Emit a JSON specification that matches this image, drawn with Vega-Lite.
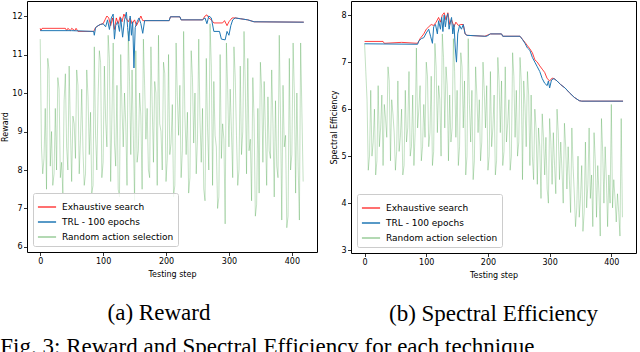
{
  "$schema": "https://vega.github.io/schema/vega-lite/v6.json",
  "padding": {"left": 0, "top": 0, "right": 0, "bottom": 0},
  "spacing": 12,
  "config": {
    "view": {"stroke": "#000", "strokeWidth": 1},
    "axis": {"domain": false, "grid": false, "tickColor": "#000", "tickSize": 3.5, "tickWidth": 0.8, "labelFont": "DejaVu Sans", "labelFontSize": 8, "labelColor": "#000", "labelPadding": 1.5, "titleFont": "DejaVu Sans", "titleFontSize": 8, "titleFontWeight": "normal", "titleColor": "#000"},
    "legend": {"orient": "bottom-left", "offset": 6, "title": null, "symbolType": "stroke", "symbolSize": 330, "symbolStrokeWidth": 1.5, "labelFont": "DejaVu Sans", "labelFontSize": 9, "labelColor": "#000", "rowPadding": 0, "padding": 4, "labelOffset": 5, "strokeColor": "#ccc", "fillColor": "rgba(255,255,255,0.85)", "cornerRadius": 2},
    "title": {"font": "Liberation Serif", "fontSize": 23, "fontWeight": "normal", "color": "#000", "orient": "bottom", "anchor": "middle", "offset": 24}
  },
  "title": {"text": "Fig. 3: Reward and Spectral Efficiency for each technique", "anchor": "start", "orient": "bottom", "offset": 9, "dx": -1},
  "datasets": {
    "rRand": [{"x":0,"y":11.4},{"x":2,"y":8.6},{"x":4,"y":7.9},{"x":6,"y":8.3},{"x":8,"y":9.6},{"x":10,"y":7.5},{"x":12,"y":10.9},{"x":14,"y":10.6},{"x":16,"y":8.1},{"x":18,"y":9.0},{"x":20,"y":7.6},{"x":22,"y":7.9},{"x":24,"y":9.6},{"x":26,"y":8.0},{"x":28,"y":10.4},{"x":30,"y":10.1},{"x":32,"y":7.8},{"x":34,"y":8.2},{"x":36,"y":7.4},{"x":38,"y":9.8},{"x":40,"y":10.5},{"x":42,"y":8.6},{"x":44,"y":8.0},{"x":46,"y":10.7},{"x":48,"y":9.1},{"x":50,"y":7.7},{"x":52,"y":9.4},{"x":54,"y":9.2},{"x":56,"y":8.3},{"x":58,"y":10.6},{"x":60,"y":10.2},{"x":62,"y":7.9},{"x":64,"y":8.8},{"x":66,"y":10.1},{"x":68,"y":8.5},{"x":70,"y":7.6},{"x":72,"y":7.9},{"x":74,"y":10.6},{"x":76,"y":9.9},{"x":78,"y":8.4},{"x":80,"y":9.5},{"x":82,"y":7.4},{"x":84,"y":7.6},{"x":86,"y":11.2},{"x":88,"y":8.9},{"x":90,"y":8.0},{"x":92,"y":9.9},{"x":94,"y":11.1},{"x":96,"y":10.8},{"x":98,"y":7.8},{"x":100,"y":8.2},{"x":102,"y":10.7},{"x":104,"y":9.3},{"x":106,"y":8.6},{"x":108,"y":11.5},{"x":110,"y":10.9},{"x":112,"y":7.7},{"x":114,"y":9.4},{"x":116,"y":11.3},{"x":118,"y":8.7},{"x":120,"y":8.1},{"x":122,"y":10.2},{"x":124,"y":7.5},{"x":126,"y":7.3},{"x":128,"y":11.0},{"x":130,"y":9.6},{"x":132,"y":8.6},{"x":134,"y":10.0},{"x":136,"y":9.2},{"x":138,"y":7.6},{"x":140,"y":11.6},{"x":142,"y":10.3},{"x":144,"y":8.4},{"x":146,"y":10.6},{"x":148,"y":8.9},{"x":150,"y":7.2},{"x":152,"y":11.1},{"x":154,"y":8.2},{"x":156,"y":8.5},{"x":158,"y":10.0},{"x":160,"y":9.4},{"x":162,"y":7.5},{"x":164,"y":11.4},{"x":166,"y":10.2},{"x":168,"y":8.8},{"x":170,"y":9.6},{"x":172,"y":8.0},{"x":174,"y":7.8},{"x":176,"y":11.2},{"x":178,"y":9.7},{"x":180,"y":8.2},{"x":182,"y":10.3},{"x":184,"y":10.0},{"x":186,"y":7.6},{"x":188,"y":11.5},{"x":190,"y":9.2},{"x":192,"y":9.0},{"x":194,"y":8.0},{"x":196,"y":10.8},{"x":198,"y":10.5},{"x":200,"y":7.7},{"x":202,"y":8.3},{"x":204,"y":11.0},{"x":206,"y":8.4},{"x":208,"y":8.7},{"x":210,"y":9.7},{"x":212,"y":7.3},{"x":214,"y":7.6},{"x":216,"y":11.3},{"x":218,"y":9.9},{"x":220,"y":8.9},{"x":222,"y":10.2},{"x":224,"y":7.8},{"x":226,"y":8.5},{"x":228,"y":11.6},{"x":230,"y":9.4},{"x":232,"y":8.4},{"x":234,"y":9.5},{"x":236,"y":7.4},{"x":238,"y":7.8},{"x":240,"y":11.1},{"x":242,"y":10.4},{"x":244,"y":8.7},{"x":246,"y":10.0},{"x":248,"y":7.9},{"x":250,"y":8.8},{"x":252,"y":11.4},{"x":254,"y":9.3},{"x":256,"y":8.2},{"x":258,"y":9.6},{"x":260,"y":7.5},{"x":262,"y":7.2},{"x":264,"y":10.9},{"x":266,"y":9.1},{"x":268,"y":8.0},{"x":270,"y":11.8},{"x":272,"y":10.7},{"x":274,"y":7.6},{"x":276,"y":10.3},{"x":278,"y":8.9},{"x":280,"y":8.6},{"x":282,"y":7.0},{"x":284,"y":7.3},{"x":286,"y":11.0},{"x":288,"y":8.3},{"x":290,"y":9.2},{"x":292,"y":8.8},{"x":294,"y":6.6},{"x":296,"y":11.3},{"x":298,"y":10.1},{"x":300,"y":8.6},{"x":302,"y":10.1},{"x":304,"y":9.0},{"x":306,"y":7.8},{"x":308,"y":11.2},{"x":310,"y":10.4},{"x":312,"y":8.9},{"x":314,"y":7.6},{"x":316,"y":8.0},{"x":318,"y":10.7},{"x":320,"y":8.4},{"x":322,"y":9.0},{"x":324,"y":11.6},{"x":326,"y":10.2},{"x":328,"y":7.9},{"x":330,"y":10.9},{"x":332,"y":8.5},{"x":334,"y":8.8},{"x":336,"y":7.2},{"x":338,"y":10.4},{"x":340,"y":9.3},{"x":342,"y":6.8},{"x":344,"y":7.1},{"x":346,"y":9.6},{"x":348,"y":7.4},{"x":350,"y":10.8},{"x":352,"y":10.1},{"x":354,"y":8.2},{"x":356,"y":10.3},{"x":358,"y":9.0},{"x":360,"y":7.6},{"x":362,"y":9.9},{"x":364,"y":8.5},{"x":366,"y":8.3},{"x":368,"y":10.6},{"x":370,"y":9.2},{"x":372,"y":7.3},{"x":374,"y":9.8},{"x":376,"y":8.1},{"x":378,"y":7.8},{"x":380,"y":11.5},{"x":382,"y":9.4},{"x":384,"y":6.7},{"x":386,"y":10.2},{"x":388,"y":8.6},{"x":390,"y":8.9},{"x":392,"y":6.5},{"x":394,"y":6.8},{"x":396,"y":10.9},{"x":398,"y":8.0},{"x":400,"y":8.4},{"x":402,"y":11.3},{"x":404,"y":10.0},{"x":406,"y":7.4},{"x":408,"y":10.0},{"x":410,"y":8.1},{"x":412,"y":6.7},{"x":414,"y":11.3},{"x":416,"y":9.5},{"x":418,"y":7.7}],
    "rExh": [{"x":0,"y":11.68},{"x":1,"y":11.62},{"x":3,"y":11.68},{"x":40,"y":11.68},{"x":42,"y":11.62},{"x":44,"y":11.68},{"x":48,"y":11.62},{"x":50,"y":11.68},{"x":55,"y":11.62},{"x":57,"y":11.68},{"x":60,"y":11.6},{"x":85,"y":11.6},{"x":88,"y":11.7},{"x":95,"y":11.78},{"x":100,"y":11.8},{"x":103,"y":11.9},{"x":106,"y":12.0},{"x":109,"y":11.95},{"x":112,"y":11.75},{"x":115,"y":11.95},{"x":118,"y":11.65},{"x":121,"y":11.95},{"x":124,"y":11.8},{"x":127,"y":11.98},{"x":130,"y":11.85},{"x":133,"y":12.05},{"x":136,"y":11.95},{"x":140,"y":11.85},{"x":143,"y":11.95},{"x":146,"y":11.8},{"x":150,"y":11.9},{"x":153,"y":11.75},{"x":156,"y":11.85},{"x":160,"y":12.0},{"x":163,"y":11.88},{"x":205,"y":11.88},{"x":207,"y":11.98},{"x":222,"y":11.98},{"x":224,"y":11.9},{"x":258,"y":11.9},{"x":262,"y":12.0},{"x":265,"y":12.03},{"x":268,"y":11.95},{"x":272,"y":11.9},{"x":276,"y":11.82},{"x":290,"y":11.82},{"x":293,"y":11.88},{"x":297,"y":11.75},{"x":300,"y":11.85},{"x":305,"y":11.95},{"x":310,"y":11.95},{"x":318,"y":11.93},{"x":330,"y":11.9},{"x":340,"y":11.85},{"x":419,"y":11.84}],
    "rTrl": [{"x":0,"y":11.62},{"x":50,"y":11.62},{"x":85,"y":11.6},{"x":86,"y":11.5},{"x":88,"y":11.7},{"x":92,"y":11.75},{"x":96,"y":11.78},{"x":100,"y":11.8},{"x":104,"y":11.72},{"x":107,"y":11.9},{"x":110,"y":11.65},{"x":113,"y":11.95},{"x":116,"y":12.05},{"x":118,"y":11.4},{"x":120,"y":11.75},{"x":123,"y":11.85},{"x":126,"y":11.6},{"x":128,"y":11.95},{"x":131,"y":11.45},{"x":134,"y":11.9},{"x":137,"y":12.1},{"x":139,"y":11.7},{"x":141,"y":11.35},{"x":143,"y":12.0},{"x":145,"y":11.5},{"x":147,"y":11.85},{"x":149,"y":10.65},{"x":151,"y":11.7},{"x":154,"y":11.85},{"x":157,"y":11.95},{"x":160,"y":11.8},{"x":163,"y":11.55},{"x":166,"y":11.88},{"x":205,"y":11.88},{"x":207,"y":11.98},{"x":222,"y":11.98},{"x":224,"y":11.9},{"x":258,"y":11.9},{"x":262,"y":11.95},{"x":265,"y":11.8},{"x":268,"y":12.0},{"x":272,"y":11.95},{"x":276,"y":11.6},{"x":285,"y":11.6},{"x":288,"y":11.4},{"x":294,"y":11.38},{"x":297,"y":11.6},{"x":300,"y":11.5},{"x":303,"y":11.75},{"x":306,"y":11.9},{"x":310,"y":11.95},{"x":318,"y":11.93},{"x":330,"y":11.9},{"x":340,"y":11.85},{"x":419,"y":11.84}],
    "sRand": [{"x":0,"y":7.4},{"x":2,"y":6.8},{"x":4,"y":6.2},{"x":6,"y":4.7},{"x":8,"y":5.0},{"x":10,"y":6.4},{"x":12,"y":5.0},{"x":14,"y":5.3},{"x":16,"y":6.0},{"x":18,"y":4.6},{"x":20,"y":4.9},{"x":22,"y":6.5},{"x":24,"y":5.2},{"x":26,"y":5.6},{"x":28,"y":6.3},{"x":30,"y":4.8},{"x":32,"y":6.1},{"x":34,"y":5.8},{"x":36,"y":5.4},{"x":38,"y":6.9},{"x":40,"y":6.6},{"x":42,"y":4.9},{"x":44,"y":6.2},{"x":46,"y":5.9},{"x":48,"y":5.5},{"x":50,"y":4.7},{"x":52,"y":5.1},{"x":54,"y":6.6},{"x":56,"y":5.1},{"x":58,"y":5.4},{"x":60,"y":6.0},{"x":62,"y":4.6},{"x":64,"y":4.8},{"x":66,"y":6.4},{"x":68,"y":5.3},{"x":70,"y":5.6},{"x":72,"y":6.8},{"x":74,"y":5.0},{"x":76,"y":5.2},{"x":78,"y":6.3},{"x":80,"y":4.8},{"x":82,"y":5.5},{"x":84,"y":7.3},{"x":86,"y":5.6},{"x":88,"y":6.0},{"x":90,"y":6.5},{"x":92,"y":4.9},{"x":94,"y":5.2},{"x":96,"y":6.1},{"x":98,"y":5.4},{"x":100,"y":7.0},{"x":102,"y":6.7},{"x":104,"y":5.2},{"x":106,"y":5.5},{"x":108,"y":6.7},{"x":110,"y":4.8},{"x":112,"y":5.1},{"x":114,"y":7.4},{"x":116,"y":6.9},{"x":118,"y":5.5},{"x":120,"y":6.5},{"x":122,"y":6.2},{"x":124,"y":5.0},{"x":126,"y":7.6},{"x":128,"y":7.1},{"x":130,"y":5.6},{"x":132,"y":6.9},{"x":134,"y":6.5},{"x":136,"y":4.9},{"x":138,"y":6.3},{"x":140,"y":5.3},{"x":142,"y":5.6},{"x":144,"y":7.5},{"x":146,"y":6.8},{"x":148,"y":5.4},{"x":150,"y":6.4},{"x":152,"y":4.8},{"x":154,"y":5.2},{"x":156,"y":7.2},{"x":158,"y":6.9},{"x":160,"y":5.6},{"x":162,"y":6.6},{"x":164,"y":4.6},{"x":166,"y":5.0},{"x":168,"y":7.5},{"x":170,"y":6.1},{"x":172,"y":5.3},{"x":174,"y":6.4},{"x":176,"y":4.5},{"x":178,"y":4.9},{"x":180,"y":6.9},{"x":182,"y":6.3},{"x":184,"y":5.5},{"x":186,"y":6.2},{"x":188,"y":4.9},{"x":190,"y":5.3},{"x":192,"y":7.0},{"x":194,"y":6.4},{"x":196,"y":5.6},{"x":198,"y":6.5},{"x":200,"y":4.7},{"x":202,"y":5.0},{"x":204,"y":6.8},{"x":206,"y":5.2},{"x":208,"y":5.6},{"x":210,"y":6.3},{"x":212,"y":4.6},{"x":214,"y":4.9},{"x":216,"y":7.1},{"x":218,"y":6.6},{"x":220,"y":5.5},{"x":222,"y":6.6},{"x":224,"y":4.8},{"x":226,"y":5.1},{"x":228,"y":6.9},{"x":230,"y":5.3},{"x":232,"y":5.7},{"x":234,"y":6.2},{"x":236,"y":4.7},{"x":238,"y":5.0},{"x":240,"y":7.2},{"x":242,"y":6.7},{"x":244,"y":5.4},{"x":246,"y":6.4},{"x":248,"y":5.0},{"x":250,"y":5.3},{"x":252,"y":7.1},{"x":254,"y":6.6},{"x":256,"y":4.5},{"x":258,"y":6.6},{"x":260,"y":6.1},{"x":262,"y":5.2},{"x":264,"y":6.8},{"x":266,"y":6.3},{"x":268,"y":4.8},{"x":270,"y":6.3},{"x":272,"y":5.0},{"x":274,"y":4.5},{"x":276,"y":6.0},{"x":278,"y":5.6},{"x":280,"y":4.4},{"x":282,"y":5.6},{"x":284,"y":5.2},{"x":286,"y":4.1},{"x":288,"y":5.9},{"x":290,"y":5.4},{"x":292,"y":4.6},{"x":294,"y":5.4},{"x":296,"y":4.3},{"x":298,"y":4.0},{"x":300,"y":5.8},{"x":302,"y":5.3},{"x":304,"y":4.4},{"x":306,"y":5.5},{"x":308,"y":4.8},{"x":310,"y":4.2},{"x":312,"y":6.0},{"x":314,"y":5.5},{"x":316,"y":4.5},{"x":318,"y":5.3},{"x":320,"y":4.7},{"x":322,"y":4.0},{"x":324,"y":5.7},{"x":326,"y":5.2},{"x":328,"y":4.3},{"x":330,"y":5.2},{"x":332,"y":4.5},{"x":334,"y":3.8},{"x":336,"y":5.6},{"x":338,"y":4.8},{"x":340,"y":4.2},{"x":342,"y":3.5},{"x":344,"y":3.9},{"x":346,"y":5.0},{"x":348,"y":3.7},{"x":350,"y":4.1},{"x":352,"y":4.8},{"x":354,"y":3.4},{"x":356,"y":3.8},{"x":358,"y":5.3},{"x":360,"y":3.9},{"x":362,"y":4.4},{"x":364,"y":5.6},{"x":366,"y":4.1},{"x":368,"y":4.6},{"x":370,"y":3.5},{"x":372,"y":5.5},{"x":374,"y":4.9},{"x":376,"y":3.7},{"x":378,"y":4.8},{"x":380,"y":4.2},{"x":382,"y":3.3},{"x":384,"y":5.8},{"x":386,"y":5.1},{"x":388,"y":4.0},{"x":390,"y":5.2},{"x":392,"y":4.5},{"x":394,"y":3.5},{"x":396,"y":4.6},{"x":398,"y":4.0},{"x":400,"y":6.1},{"x":402,"y":3.9},{"x":404,"y":4.5},{"x":406,"y":4.1},{"x":408,"y":3.6},{"x":410,"y":4.2},{"x":412,"y":3.8},{"x":414,"y":3.3},{"x":416,"y":5.8},{"x":418,"y":3.7}],
    "sExh": [{"x":0,"y":7.44},{"x":30,"y":7.44},{"x":32,"y":7.4},{"x":60,"y":7.42},{"x":86,"y":7.4},{"x":90,"y":7.5},{"x":96,"y":7.6},{"x":100,"y":7.7},{"x":104,"y":7.75},{"x":108,"y":7.8},{"x":112,"y":7.78},{"x":116,"y":7.85},{"x":120,"y":7.95},{"x":123,"y":7.85},{"x":126,"y":8.0},{"x":129,"y":8.05},{"x":132,"y":7.9},{"x":135,"y":8.05},{"x":138,"y":7.8},{"x":141,"y":7.9},{"x":145,"y":7.75},{"x":148,"y":7.85},{"x":152,"y":7.78},{"x":156,"y":7.8},{"x":160,"y":7.8},{"x":163,"y":7.6},{"x":166,"y":7.57},{"x":195,"y":7.55},{"x":204,"y":7.6},{"x":222,"y":7.6},{"x":224,"y":7.55},{"x":252,"y":7.55},{"x":260,"y":7.42},{"x":264,"y":7.35},{"x":268,"y":7.28},{"x":272,"y":7.2},{"x":276,"y":7.05},{"x":280,"y":7.0},{"x":284,"y":6.92},{"x":288,"y":6.85},{"x":292,"y":6.78},{"x":296,"y":6.65},{"x":300,"y":6.6},{"x":304,"y":6.66},{"x":307,"y":6.65},{"x":312,"y":6.6},{"x":318,"y":6.52},{"x":325,"y":6.45},{"x":332,"y":6.35},{"x":340,"y":6.25},{"x":348,"y":6.18},{"x":352,"y":6.17},{"x":419,"y":6.17}],
    "sTrl": [{"x":0,"y":7.39},{"x":86,"y":7.38},{"x":88,"y":7.45},{"x":92,"y":7.5},{"x":96,"y":7.52},{"x":100,"y":7.62},{"x":104,"y":7.7},{"x":107,"y":7.55},{"x":110,"y":7.4},{"x":112,"y":7.75},{"x":115,"y":7.8},{"x":118,"y":7.6},{"x":120,"y":7.88},{"x":123,"y":7.7},{"x":125,"y":7.95},{"x":127,"y":7.65},{"x":129,"y":8.0},{"x":131,"y":7.75},{"x":133,"y":7.95},{"x":135,"y":8.03},{"x":137,"y":7.7},{"x":139,"y":7.85},{"x":141,"y":7.95},{"x":143,"y":7.6},{"x":145,"y":7.8},{"x":147,"y":7.3},{"x":149,"y":7.0},{"x":151,"y":7.6},{"x":154,"y":7.78},{"x":157,"y":7.7},{"x":160,"y":7.8},{"x":163,"y":7.6},{"x":166,"y":7.57},{"x":195,"y":7.55},{"x":198,"y":7.55},{"x":204,"y":7.6},{"x":222,"y":7.6},{"x":224,"y":7.55},{"x":252,"y":7.55},{"x":256,"y":7.48},{"x":260,"y":7.4},{"x":264,"y":7.3},{"x":268,"y":7.25},{"x":272,"y":7.1},{"x":276,"y":7.0},{"x":280,"y":6.9},{"x":284,"y":6.8},{"x":288,"y":6.65},{"x":292,"y":6.55},{"x":296,"y":6.5},{"x":298,"y":6.6},{"x":300,"y":6.45},{"x":303,"y":6.62},{"x":307,"y":6.65},{"x":312,"y":6.6},{"x":318,"y":6.52},{"x":325,"y":6.45},{"x":332,"y":6.35},{"x":340,"y":6.25},{"x":348,"y":6.18},{"x":352,"y":6.17},{"x":419,"y":6.17}]
  },
  "hconcat": [
    {
      "width": 290,
      "height": 251,
      "title": {"text": "(a) Reward", "dx": -13},
      "encoding": {
        "x": {"field": "x", "type": "quantitative", "scale": {"domain": [-21, 440], "nice": false, "zero": false}, "axis": {"values": [0, 100, 200, 300, 400], "title": "Testing step", "titlePadding": 5}},
        "y": {"field": "y", "type": "quantitative", "scale": {"domain": [5.87, 12.39], "nice": false, "zero": false}, "axis": {"values": [6, 7, 8, 9, 10, 11, 12], "title": "Reward", "titlePadding": 2}},
        "color": {"scale": {"domain": ["Exhaustive search", "TRL - 100 epochs", "Random action selection"], "range": ["rgba(255,0,0,0.75)", "#1f77b4", "rgba(0,128,0,0.4)"]}}
      },
      "layer": [
        {"data": {"name": "rRand"}, "mark": {"type": "line", "strokeWidth": 0.6}, "encoding": {"color": {"datum": "Random action selection"}}},
        {"data": {"name": "rExh"}, "mark": {"type": "line", "strokeWidth": 1}, "encoding": {"color": {"datum": "Exhaustive search"}}},
        {"data": {"name": "rTrl"}, "mark": {"type": "line", "strokeWidth": 1}, "encoding": {"color": {"datum": "TRL - 100 epochs"}}}
      ]
    },
    {
      "width": 285,
      "height": 252,
      "title": "(b) Spectral Efficiency",
      "encoding": {
        "x": {"field": "x", "type": "quantitative", "scale": {"domain": [-22, 440], "nice": false, "zero": false}, "axis": {"values": [0, 100, 200, 300, 400], "title": "Testing step", "titlePadding": 5}},
        "y": {"field": "y", "type": "quantitative", "scale": {"domain": [2.94, 8.3], "nice": false, "zero": false}, "axis": {"values": [3, 4, 5, 6, 7, 8], "title": "Spectral Efficiency", "titlePadding": 2}},
        "color": {"scale": {"domain": ["Exhaustive search", "TRL - 100 epochs", "Random action selection"], "range": ["rgba(255,0,0,0.75)", "#1f77b4", "rgba(0,128,0,0.4)"]}}
      },
      "layer": [
        {"data": {"name": "sRand"}, "mark": {"type": "line", "strokeWidth": 0.6}, "encoding": {"color": {"datum": "Random action selection"}}},
        {"data": {"name": "sExh"}, "mark": {"type": "line", "strokeWidth": 1}, "encoding": {"color": {"datum": "Exhaustive search"}}},
        {"data": {"name": "sTrl"}, "mark": {"type": "line", "strokeWidth": 1}, "encoding": {"color": {"datum": "TRL - 100 epochs"}}}
      ]
    }
  ],
  "resolve": {"scale": {"x": "independent", "y": "independent", "color": "independent"}, "legend": {"color": "independent"}}
}
